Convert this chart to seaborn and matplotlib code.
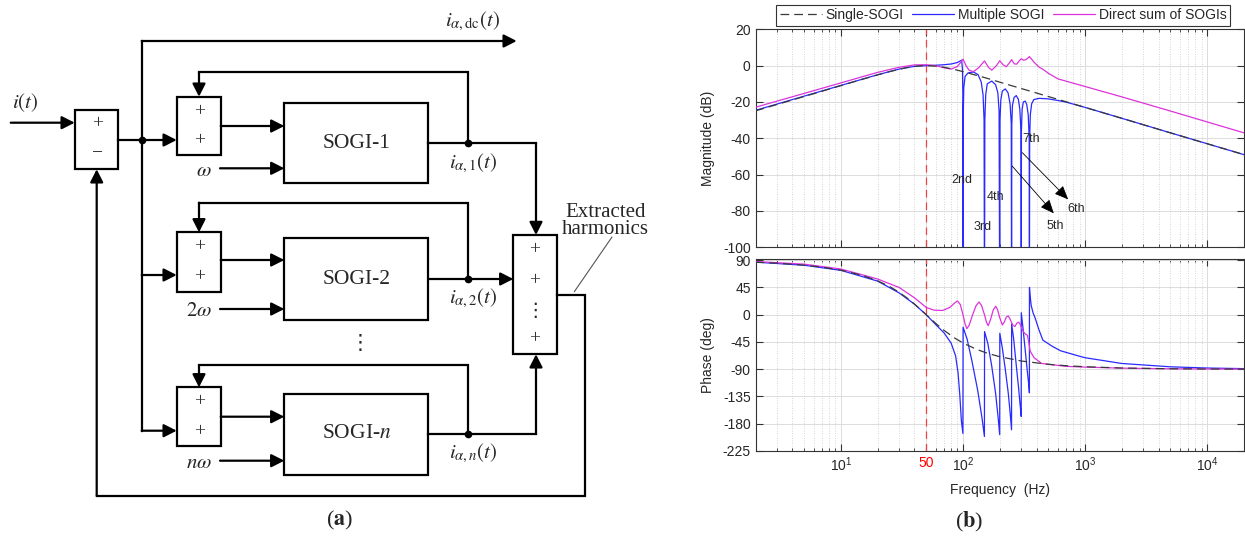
import numpy as np
import matplotlib
matplotlib.use("Agg")
import matplotlib.pyplot as plt
import seaborn as sns
from matplotlib.patches import Rectangle
from matplotlib.ticker import LogLocator, NullFormatter

# ---- panel (b) values ----
single_f = [2, 3, 5, 7, 10, 15, 20, 25, 30, 35, 40, 45, 50, 60, 70, 85, 100, 130, 160, 200,
            300, 500, 700, 1000, 2000, 5000, 10000, 20000]
single_mag = [-24.9, -21.4, -17.0, -14.1, -11.0, -7.5, -5.1, -3.3, -2.0, -1.0, -0.4, -0.1, 0.0,
              -0.3, -0.9, -2.1, -3.3, -5.4, -7.1, -9.1, -12.6, -17.0, -19.9, -23.0, -29.0,
              -37.0, -43.0, -49.0]
single_ph = [86.8, 85.1, 81.9, 78.6, 73.6, 65.0, 56.0, 46.7, 37.0, 27.3, 17.7, 8.5, 0.0, -14.5,
             -25.9, -38.2, -46.7, -57.4, -63.9, -69.3, -76.4, -81.9, -84.2, -85.9, -88.0,
             -89.2, -89.6, -89.8]

multi_mag_f = [2, 5, 10, 20, 30, 40, 50, 60, 70, 80, 90, 95, 97.5, 99.0, 99.7, 100.0, 100.4,
               101.5, 104, 110, 122, 133, 141, 146, 148.8, 150.0, 151, 153.5, 158, 172, 185,
               193, 197.5, 200.0, 201, 204, 210, 222, 234, 243, 248.5, 250.0, 251, 254, 262,
               273, 284, 292, 298.5, 300.0, 301, 305, 312, 323, 333, 342, 348.5, 350.0, 351.5,
               356, 365, 380, 420, 500, 600, 700, 1000, 2000, 5000, 10000, 20000]
multi_mag = [-24.6, -16.8, -10.9, -5.0, -1.9, -0.4, 0.0, 0.2, 0.5, 0.9, 1.7, 2.6, 3.0, -2.0,
             -15.0, -140, -30, -12, -6, -4, -3.5, -5, -9, -16, -30, -140, -30, -16, -10, -8.5,
             -10.5, -15, -25, -140, -30, -19, -14, -12.8, -15, -21, -32, -140, -33, -22, -17.5,
             -16.5, -18.5, -24, -36, -140, -36, -24, -20, -19.5, -21.5, -27, -40, -140, -40,
             -27, -21, -18.7, -18.0, -18.3, -19.2, -20.1, -23.0, -29.0, -37.0, -43.0, -49.0]

multi_ph_f = [2, 5, 10, 20, 30, 40, 50, 61, 70, 80, 87, 91, 94, 97, 99.8, 100.2, 108, 118, 132,
              143, 149.8, 150.2, 160, 172, 185, 194, 199.8, 200.2, 210, 222, 235, 244, 249.8,
              250.2, 260, 272, 285, 294, 299.8, 300.2, 310, 322, 335, 344, 349.8, 350.2, 355,
              362, 375, 389, 419, 451, 537, 629, 880, 1000, 2000, 5000, 10000, 20000]
multi_ph = [86.8, 81.7, 73.3, 55.5, 36.0, 17.5, 0.0, -18, -30, -47, -68, -95, -130, -175, -196,
            -20.7, -40, -75, -125, -170, -201, -27.8, -48, -85, -130, -170, -198, -30.6, -55,
            -90, -130, -165, -190, -15, -40, -80, -120, -150, -168, 3.3, -22, -55, -90, -112,
            -129, 45, 30, 15, 3, -5, -25, -42, -52, -59.5, -68, -71, -80.5, -86, -88, -89]

direct_mag_f = [2, 5, 10, 20, 30, 40, 50, 60, 70, 80, 90, 95, 100, 106, 112, 122, 135, 150, 162,
                172, 188, 200, 213, 226, 240, 250, 263, 275, 288, 300, 313, 325, 338, 350, 365,
                380, 420, 451, 500, 600, 1000, 2000, 5000, 10000, 20000]
direct_mag = [-22.9, -15.3, -9.5, -3.7, -0.9, 0.4, 0.5, 0.0, -1.2, -1.9, -0.5, 1.5, 3.6, 0.0,
              -2.5, -3.3, -1.0, 2.6, -1.0, -2.5, 0.0, 2.7, 0.5, -0.6, 1.5, 3.3, 1.0, 0.8, 2.5,
              3.8, 3.0, 3.2, 4.0, 5.0, 3.5, 2.0, -0.8, -2.0, -4.2, -7.3, -11.5, -17.2, -25.0,
              -31.0, -37.0]

direct_ph_f = [2, 5, 10, 20, 30, 40, 50, 58, 68, 78, 85, 90, 95, 100, 104, 107.5, 112, 120, 128,
               135.5, 142, 150, 156, 161, 168, 177, 185.5, 192, 200, 210, 218, 226, 235, 244,
               255, 266, 276, 286, 294, 301, 312, 325, 337, 345, 355, 382, 441, 537, 700, 1000,
               2000, 5000, 20000]
direct_ph = [87.8, 83.5, 75.5, 59, 45, 28, 12, 7.5, 7, 12, 19, 22.7, 17, 0, -15, -23, -18, 0, 15,
             21, 15, 0, -13, -18, -8, 8, 14, 8, -5, -17, -12, -4, -2, -8, -17, -19.5, -14, -12.3,
             -16, -21, -28, -32, -34, -45, -60, -71, -80.5, -82.5, -85.3, -86.5, -88.2, -89.3,
             -89.8]

harm_labels = ["2nd", "3rd", "4th", "5th", "6th", "7th"]
harm_label_f = [98, 144, 183, 572, 849, 362]
harm_label_db = [-63, -88.7, -72.5, -88.3, -78.8, -40.5]

sns.set_style("ticks")
plt.rcParams['font.family'] = ['Liberation Sans', 'DejaVu Sans']
plt.rcParams['axes.unicode_minus'] = False
plt.rcParams['mathtext.fontset'] = 'custom'
plt.rcParams['mathtext.rm'] = 'Liberation Sans'
plt.rcParams['mathtext.it'] = 'Liberation Sans:italic'

fig = plt.figure(figsize=(12.45, 5.39), dpi=100)

# ---------------- (a) block diagram ----------------
axd = fig.add_axes([0, 0, 0.5, 1])
axd.set_xlim(0, 622.5)
axd.set_ylim(539, 0)
axd.axis('off')

LW = 1.6
SERIF = 'Liberation Serif'


def seg(*pts):
    xs, ys = zip(*pts)
    axd.plot(xs, ys, color='k', lw=LW, solid_capstyle='projecting', solid_joinstyle='miter')


def arr(p0, p1):
    axd.annotate('', xy=p1, xytext=p0,
                 arrowprops=dict(arrowstyle='-|>,head_length=0.55,head_width=0.28',
                                 mutation_scale=14, lw=LW, color='k', shrinkA=0, shrinkB=0))


def box(x0, y0, x1, y1):
    axd.add_patch(Rectangle((x0, y0), x1 - x0, y1 - y0, fill=False, lw=LW, ec='k'))


def dot(x, y):
    axd.plot(x, y, 'o', color='k', ms=4.5)


def mtext(x, y, s, size=15, **kw):
    axd.text(x, y, s, fontsize=size, fontfamily=SERIF, math_fontfamily='stix',
             ha=kw.pop('ha', 'center'), va=kw.pop('va', 'center'), clip_on=False, **kw)


def vdots(x, y, size=15):
    axd.text(x, y, '\u22ee', fontsize=size, fontfamily='DejaVu Sans', ha='center', va='center')


# input summing junction
box(74.7, 110, 118, 169.3)
mtext(97.7, 124, '+', size=14, color='#333333')
mtext(97.7, 153, '\u2212', size=14, color='#333333')
arr((10.7, 122.7), (74.7, 122.7))
mtext(25, 103, r'$i(t)$')
seg((118, 140), (141.7, 140))
dot(141.7, 140)
seg((141.7, 41), (141.7, 430.7))
arr((141.7, 41), (516.7, 41))
mtext(472, 21, r'$i_{\alpha,\mathrm{dc}}(t)$')

rows = [
    dict(ad=(96.7, 155.3), fb=72, amid=126, plus=(111.7, 141), inp=140, w=168.3,
         wl=r'$\omega$', sg=(102.7, 183.3), out=143.3, name='SOGI-1',
         lab=r'$i_{\alpha,1}(t)$', laby=163.3),
    dict(ad=(232.3, 291.7), fb=202.7, amid=260, plus=(246.7, 276.7), inp=275, w=309,
         wl=r'$2\omega$', sg=(238.3, 320), out=279, name='SOGI-2',
         lab=r'$i_{\alpha,2}(t)$', laby=298.3),
    dict(ad=(387.3, 446), fb=365.3, amid=416.7, plus=(401.7, 431.7), inp=430.7, w=460.7,
         wl=r'$n\omega$', sg=(394, 475), out=434, name=r'SOGI-$n$',
         lab=r'$i_{\alpha,n}(t)$', laby=453.3),
]
for r in rows:
    box(176.7, r['ad'][0], 220.7, r['ad'][1])
    for py in r['plus']:
        mtext(200, py, '+', size=14, color='#333333')
    arr((141.7, r['inp']), (176.7, r['inp']))
    seg((467.7, r['out']), (467.7, r['fb']), (199, r['fb']))
    arr((199, r['fb']), (199, r['ad'][0]))
    arr((220.7, r['amid']), (284.3, r['amid']))
    arr((220, r['w']), (284.3, r['w']))
    mtext(212, r['w'] + 3, r['wl'], ha='right')
    box(284.3, r['sg'][0], 428.3, r['sg'][1])
    mtext(356.7, r['out'], r['name'], size=15.5)
    dot(467.7, r['out'])
    mtext(473, r['laby'], r['lab'])

# outputs into the big summing block
seg((428.3, 143.3), (536, 143.3))
arr((536, 143.3), (536, 235))
arr((428.3, 279), (513.3, 279))
seg((428.3, 434), (536, 434))
arr((536, 434), (536, 354.3))
vdots(360, 343)

box(513.3, 235, 556.7, 354.3)
for py in (250, 281, 339):
    mtext(535, py, '+', size=14, color='#333333')
vdots(535, 310, size=14)

# feedback to input junction
seg((556.7, 295), (585, 295), (585, 496), (96.7, 496))
arr((96.7, 496), (96.7, 169.3))
axd.plot([574.3, 612], [291.7, 237], color='#555555', lw=0.8)
mtext(606, 217, 'Extracted', va='baseline')
mtext(605, 234, 'harmonics', va='baseline')
mtext(340, 520, r'($\mathbf{a}$)', size=16)

# ---------------- (b) Bode plot ----------------
L, W = 755.5 / 1245, (1244 - 755.5) / 1245
axm = fig.add_axes([L, 1 - 247.3 / 539, W, (247.3 - 29.3) / 539])
axp = fig.add_axes([L, 1 - 451 / 539, W, (451 - 259) / 539])

c_single, c_multi, c_direct = '#3a3a3a', '#2a2aff', '#dd33dd'
for ax, sf, sv, mf, mv, df, dv in [
        (axm, single_f, single_mag, multi_mag_f, multi_mag, direct_mag_f, direct_mag),
        (axp, single_f, single_ph, multi_ph_f, multi_ph, direct_ph_f, direct_ph)]:
    sns.lineplot(x=mf, y=mv, ax=ax, color=c_multi, lw=0.9, sort=False, estimator=None,
                 label='Multiple SOGI', zorder=3)
    sns.lineplot(x=df, y=dv, ax=ax, color=c_direct, lw=0.9, sort=False, estimator=None,
                 label='Direct sum of SOGIs', zorder=4)
    sns.lineplot(x=sf, y=sv, ax=ax, color=c_single, lw=0.9, sort=False, estimator=None,
                 label='Single-SOGI', zorder=5)
    ax.lines[-1].set_linestyle((0, (7, 4)))
    ax.axvline(50, color='#ee4444', ls=(0, (6, 4)), lw=0.9, zorder=2)
    ax.set_xscale('log')
    ax.set_xlim(2, 20000)
    ax.xaxis.set_minor_locator(LogLocator(base=10, subs=np.arange(2, 10)))
    ax.xaxis.set_minor_formatter(NullFormatter())
    ax.grid(True, which='major', color='#dcdcdc', lw=0.7)
    ax.grid(True, which='minor', axis='x', color='#c8c8c8', ls=(0, (1, 2)), lw=0.6)
    ax.tick_params(which='both', direction='in', top=True, right=True, labelsize=10,
                   color='#333333')
    ax.tick_params(which='major', length=5)
    ax.tick_params(which='minor', length=2.5)
    for s in ax.spines.values():
        s.set_color('#333333')
        s.set_linewidth(0.8)
    ax.set_xlabel('')
    ax.set_ylabel('')

handles, labels = axm.get_legend_handles_labels()
order = [labels.index(n) for n in ['Single-SOGI', 'Multiple SOGI', 'Direct sum of SOGIs']]
for ax in (axm, axp):
    ax.get_legend().remove()

axm.set_ylim(-100, 20)
axm.set_yticks(range(-100, 21, 20))
axm.tick_params(labelbottom=False)
axm.set_xticks([10, 50, 100, 1000, 10000])
axm.set_ylabel('Magnitude (dB)', fontsize=10)
axm.yaxis.set_label_coords(-0.082, 0.5)

for t, f, d in zip(harm_labels, harm_label_f, harm_label_db):
    axm.text(f, d, t, fontsize=9, ha='center', va='center', zorder=6)
for (f0, d0), (f1, d1) in [((253, -55.3), (554, -81.3)), ((306, -47.9), (726, -73.6))]:
    axm.annotate('', xy=(f1, d1), xytext=(f0, d0), zorder=6,
                 arrowprops=dict(arrowstyle='-|>,head_length=0.7,head_width=0.3',
                                 mutation_scale=12, lw=0.6, color='k', shrinkA=0, shrinkB=0))

axp.set_ylim(-225, 92)
axp.set_yticks(range(-225, 91, 45))
axp.set_xticks([10, 50, 100, 1000, 10000])
axp.set_xticklabels([r'$10^{1}$', '50', r'$10^{2}$', r'$10^{3}$', r'$10^{4}$'])
axp.get_xticklabels()[1].set_color('red')
axp.set_ylabel('Phase (deg)', fontsize=10)
axp.yaxis.set_label_coords(-0.082, 0.5)
axp.set_xlabel('Frequency  (Hz)', fontsize=10)
axp.xaxis.set_label_coords(0.5, -0.165)

leg = fig.legend([handles[i] for i in order], [labels[i] for i in order], ncol=3,
                 loc='center', bbox_to_anchor=(1003.2 / 1245, 1 - 15.3 / 539), fontsize=10,
                 frameon=True, fancybox=False, edgecolor='#333333', framealpha=1,
                 handlelength=3.0, columnspacing=0.6, handletextpad=0.3,
                 borderpad=0.25)
leg.get_frame().set_linewidth(0.8)

fig.text(969.6 / 1245, 1 - 521.5 / 539, r'($\mathbf{b}$)', fontsize=16, ha='center',
         va='center', fontfamily=SERIF, math_fontfamily='stix')

fig.savefig('out.png', dpi=100)
